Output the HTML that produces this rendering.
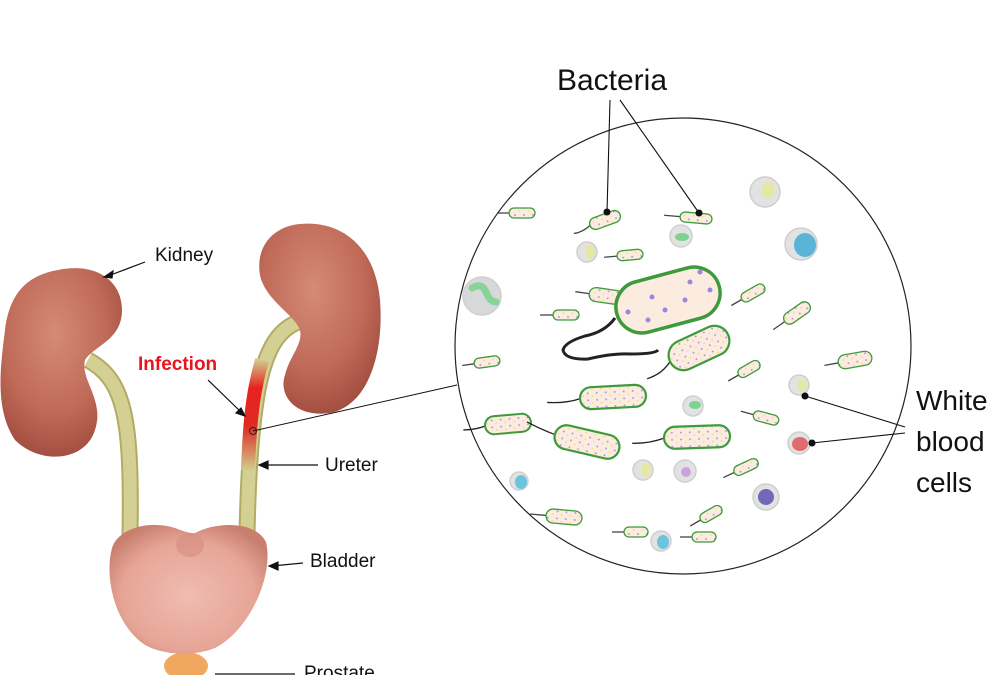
<!DOCTYPE html>
<html><head><meta charset="utf-8"><style>
html,body{margin:0;padding:0;background:#fff;}
svg{display:block;font-family:"Liberation Sans",sans-serif;}
</style></head><body>
<svg width="1000" height="675" viewBox="0 0 1000 675" xmlns="http://www.w3.org/2000/svg">
<defs>
<radialGradient id="kid" cx="0.45" cy="0.35" r="0.7">
<stop offset="0" stop-color="#d58a78"/><stop offset="0.6" stop-color="#c06a58"/><stop offset="1" stop-color="#9e4a3d"/></radialGradient>
<radialGradient id="blad" cx="0.5" cy="0.55" r="0.6">
<stop offset="0" stop-color="#f0bcb2"/><stop offset="0.7" stop-color="#e6a596"/><stop offset="1" stop-color="#c97f70"/></radialGradient>
<linearGradient id="inf" x1="0" y1="0" x2="0" y2="1">
<stop offset="0" stop-color="#d0cc8c"/><stop offset="0.25" stop-color="#e8231f"/><stop offset="0.6" stop-color="#e02a22"/><stop offset="1" stop-color="#d0cc8c"/></linearGradient>
<pattern id="dots" width="9" height="7" patternUnits="userSpaceOnUse">
<rect width="9" height="7" fill="#fcebdf"/><circle cx="2" cy="2" r="0.9" fill="#9c86e0"/><circle cx="6.5" cy="5" r="0.8" fill="#e8d870"/></pattern>
</defs>

<!-- ureters -->
<path d="M88,360 C125,380 132,420 130,535" fill="none" stroke="#b1ab66" stroke-width="17"/>
<path d="M88,360 C125,380 132,420 130,535" fill="none" stroke="#d4cf92" stroke-width="13"/>
<path d="M298,322 C265,335 250,380 247,535" fill="none" stroke="#b1ab66" stroke-width="17"/>
<path d="M298,322 C265,335 250,380 247,535" fill="none" stroke="#d4cf92" stroke-width="13"/>
<path d="M262,360 C255,385 250,410 248,470" fill="none" stroke="url(#inf)" stroke-width="14"/>

<!-- kidneys -->
<path d="M58,270 C95,262 122,280 122,310 C122,340 95,345 85,360 C80,380 105,400 95,430 C85,462 40,465 15,440 C-5,410 0,370 5,330 C10,290 30,275 58,270Z" fill="url(#kid)"/>
<path d="M300,224 C340,220 375,245 380,300 C384,350 370,405 330,413 C295,418 278,395 285,375 C290,355 303,345 300,330 C295,315 265,300 260,275 C255,245 275,226 300,224Z" fill="url(#kid)"/>

<!-- bladder & prostate -->
<ellipse cx="186" cy="666" rx="22" ry="14" fill="#f0a860"/>
<path d="M112,548 C118,528 150,520 175,528 Q190,534 195,533 C215,522 255,520 266,542 C274,575 250,630 215,648 C195,656 165,656 145,645 C115,625 104,578 112,548Z" fill="url(#blad)"/>
<ellipse cx="190" cy="545" rx="14" ry="12" fill="#d58a80" opacity="0.55"/>

<!-- left labels -->
<g stroke="#111" stroke-width="1.2" fill="#111">
<line x1="145" y1="262" x2="108" y2="276"/><path d="M104,277 l9,-6 l-1,7z"/>
<line x1="208" y1="380" x2="242" y2="413"/><path d="M245,416 l-9,-3 l5,-5z"/>
<line x1="318" y1="465" x2="262" y2="465"/><path d="M259,465 l9,-4 v8z"/>
<line x1="303" y1="563" x2="272" y2="566"/><path d="M269,566 l9,-4 v8z"/>
<line x1="295" y1="674" x2="215" y2="674"/>
<line x1="253" y1="431" x2="457" y2="385" stroke-width="1"/>
</g>
<circle cx="253" cy="431" r="3.5" fill="none" stroke="#222" stroke-width="1"/>
<text x="155" y="261" font-size="19" fill="#111">Kidney</text>
<text x="138" y="370" font-size="19" font-weight="bold" fill="#e8141e">Infection</text>
<text x="325" y="471" font-size="19" fill="#111">Ureter</text>
<text x="310" y="567" font-size="19" fill="#111">Bladder</text>
<text x="304" y="679" font-size="19" fill="#111">Prostate</text>

<!-- circle -->
<circle cx="683" cy="346" r="228" fill="#fff" stroke="#222" stroke-width="1.2"/>

<!-- WBCs -->
<g stroke="#cfcfcf" stroke-width="1.5">
<circle cx="765" cy="192" r="15" fill="#e2e2e2"/><ellipse cx="768" cy="190" rx="7" ry="8" fill="#e4e8a4" stroke="none"/>
<circle cx="801" cy="244" r="16" fill="#e2e2e2"/><ellipse cx="805" cy="245" rx="11" ry="12" fill="#5ab4d8" stroke="none"/>
<circle cx="681" cy="236" r="11" fill="#e2e2e2"/><ellipse cx="682" cy="237" rx="7" ry="4" fill="#7fd390" stroke="none"/>
<circle cx="587" cy="252" r="10" fill="#e2e2e2"/><ellipse cx="590" cy="252" rx="5" ry="7" fill="#e4e8a4" stroke="none"/>
<circle cx="482" cy="296" r="19" fill="#d8d8d8"/><path d="M472,288 q10,-6 14,4 q4,10 10,10" stroke="#86d49a" stroke-width="7" fill="none" stroke-linecap="round"/>
<circle cx="693" cy="406" r="10" fill="#e2e2e2"/><ellipse cx="695" cy="405" rx="6" ry="4" fill="#7fd390" stroke="none"/>
<circle cx="799" cy="385" r="10" fill="#e2e2e2"/><ellipse cx="802" cy="385" rx="5" ry="6" fill="#e4e8a4" stroke="none"/>
<circle cx="799" cy="443" r="11" fill="#e2e2e2"/><ellipse cx="800" cy="444" rx="8" ry="7" fill="#e06a72" stroke="none"/>
<circle cx="643" cy="470" r="10" fill="#e2e2e2"/><ellipse cx="646" cy="470" rx="5" ry="7" fill="#e4e8a4" stroke="none"/>
<circle cx="685" cy="471" r="11" fill="#e2e2e2"/><circle cx="686" cy="472" r="5" fill="#c9a4dc" stroke="none"/>
<circle cx="519" cy="481" r="9" fill="#e2e2e2"/><ellipse cx="521" cy="482" rx="6" ry="7" fill="#6cc3de" stroke="none"/>
<circle cx="766" cy="497" r="13" fill="#e2e2e2"/><circle cx="766" cy="497" r="8" fill="#7068b8" stroke="none"/>
<circle cx="661" cy="541" r="10" fill="#e2e2e2"/><ellipse cx="663" cy="542" rx="6" ry="7" fill="#6cc3de" stroke="none"/>
</g>

<!-- bacteria -->
<g fill="url(#dots)" stroke="#3e9a3a" stroke-width="1.3">
<g transform="translate(522,213)"><path d="M-13,0 h-12" stroke="#444" fill="none"/><rect x="-13" y="-5" width="26" height="10" rx="5"/></g>
<g transform="translate(605,220) rotate(-20)"><path d="M-16,0 q-10,4 -18,2" stroke="#444" fill="none"/><rect x="-16" y="-6" width="32" height="12" rx="6"/></g>
<g transform="translate(696,218) rotate(5)"><path d="M-16,0 h-16" stroke="#444" fill="none"/><rect x="-16" y="-5" width="32" height="10" rx="5"/></g>
<g transform="translate(630,255) rotate(-5)"><path d="M-13,0 h-13" stroke="#444" fill="none"/><rect x="-13" y="-5" width="26" height="10" rx="5"/></g>
<g transform="translate(606,296) rotate(8)"><path d="M-17,0 h-14" stroke="#444" fill="none"/><rect x="-17" y="-7" width="34" height="14" rx="7"/></g>
<g transform="translate(566,315)"><path d="M-13,0 h-13" stroke="#444" fill="none"/><rect x="-13" y="-5" width="26" height="10" rx="5"/></g>
<g transform="translate(753,293) rotate(-30)"><path d="M-13,0 h-12" stroke="#444" fill="none"/><rect x="-13" y="-5" width="26" height="10" rx="5"/></g>
<g transform="translate(797,313) rotate(-35)"><path d="M-15,0 h-14" stroke="#444" fill="none"/><rect x="-15" y="-6" width="30" height="12" rx="6"/></g>
<g transform="translate(487,362) rotate(-8)"><path d="M-13,0 h-12" stroke="#444" fill="none"/><rect x="-13" y="-5" width="26" height="10" rx="5"/></g>
<g transform="translate(749,369) rotate(-30)"><path d="M-12,0 h-12" stroke="#444" fill="none"/><rect x="-12" y="-5" width="24" height="10" rx="5"/></g>
<g transform="translate(855,360) rotate(-10)"><path d="M-17,0 h-14" stroke="#444" fill="none"/><rect x="-17" y="-7" width="34" height="14" rx="7"/></g>
<g transform="translate(766,418) rotate(15)"><path d="M-13,0 h-13" stroke="#444" fill="none"/><rect x="-13" y="-5" width="26" height="10" rx="5"/></g>
<g transform="translate(746,467) rotate(-25)"><path d="M-13,0 h-12" stroke="#444" fill="none"/><rect x="-13" y="-5" width="26" height="10" rx="5"/></g>
<g transform="translate(564,517) rotate(5)"><path d="M-18,0 h-16" stroke="#444" fill="none"/><rect x="-18" y="-7" width="36" height="14" rx="7"/></g>
<g transform="translate(711,514) rotate(-30)"><path d="M-12,0 h-12" stroke="#444" fill="none"/><rect x="-12" y="-5" width="24" height="10" rx="5"/></g>
<g transform="translate(636,532)"><path d="M-12,0 h-12" stroke="#444" fill="none"/><rect x="-12" y="-5" width="24" height="10" rx="5"/></g>
<g transform="translate(704,537)"><path d="M-12,0 h-12" stroke="#444" fill="none"/><rect x="-12" y="-5" width="24" height="10" rx="5"/></g>
<g transform="translate(508,424) rotate(-5)"><path d="M-23,0 q-10,3 -22,2" stroke="#222" fill="none"/><rect x="-23" y="-9" width="46" height="18" rx="9" stroke-width="2"/></g>
<g transform="translate(699,348) rotate(-25)"><path d="M-32,0 q-12,8 -28,6" stroke="#222" fill="none"/><rect x="-32" y="-15" width="64" height="30" rx="15" stroke-width="2.2"/></g>
<g transform="translate(613,397) rotate(-3)"><path d="M-33,0 q-15,4 -33,2" stroke="#222" fill="none"/><rect x="-33" y="-11" width="66" height="22" rx="11" stroke-width="2.2"/></g>
<g transform="translate(587,442) rotate(13)"><path d="M-33,0 q-15,-2 -30,-6" stroke="#222" fill="none"/><rect x="-33" y="-12" width="66" height="24" rx="12" stroke-width="2.2"/></g>
<g transform="translate(697,437) rotate(-2)"><path d="M-33,0 q-15,5 -32,4" stroke="#222" fill="none"/><rect x="-33" y="-11" width="66" height="22" rx="11" stroke-width="2.2"/></g>
<path d="M615,318 q-10,14 -30,18 q-20,6 -22,14 q2,10 25,9 q25,-6 42,-5 q25,0 28,-4" stroke="#222" stroke-width="3" fill="none"/>
<g transform="translate(668,300) rotate(-15)"><rect x="-53" y="-26" width="106" height="52" rx="26" stroke-width="3.5" fill="#fcebdf"/></g>
</g>
<g fill="#9c86e0">
<circle cx="652" cy="297" r="2.5"/><circle cx="665" cy="310" r="2.5"/><circle cx="690" cy="282" r="2.5"/><circle cx="710" cy="290" r="2.5"/><circle cx="648" cy="320" r="2.5"/><circle cx="685" cy="300" r="2.5"/><circle cx="700" cy="272" r="2.5"/><circle cx="628" cy="312" r="2.5"/>
</g>

<!-- pointers -->
<g stroke="#111" stroke-width="1.1" fill="#111">
<line x1="610" y1="100" x2="607" y2="212"/><circle cx="607" cy="212" r="3"/>
<line x1="620" y1="100" x2="699" y2="213"/><circle cx="699" cy="213" r="3"/>
<line x1="905" y1="427" x2="805" y2="396"/><circle cx="805" cy="396" r="3"/>
<line x1="905" y1="433" x2="812" y2="443"/><circle cx="812" cy="443" r="3"/>
</g>
<text x="612" y="90" font-size="30" text-anchor="middle" fill="#111">Bacteria</text>
<text x="916" y="410" font-size="28" fill="#111">White</text>
<text x="916" y="451" font-size="28" fill="#111">blood</text>
<text x="916" y="492" font-size="28" fill="#111">cells</text>
</svg>
</body></html>
